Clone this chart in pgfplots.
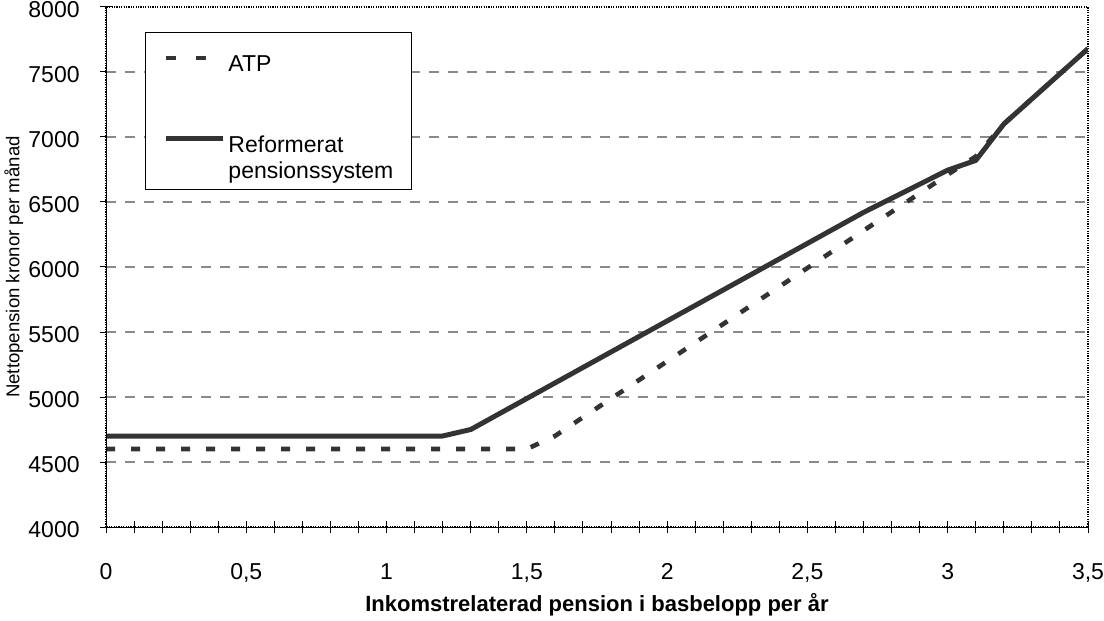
\documentclass[border=0pt]{standalone}
\usepackage{fontspec}
\setmainfont{Liberation Sans}
\usepackage{pgfplots}
\pgfplotsset{compat=1.18}
\definecolor{ln}{HTML}{333333}
\definecolor{gr}{HTML}{8A8A8A}
\newcommand\tfont{\fontsize{11.5}{13}\selectfont}
\pgfplotsset{
  atpleg/.style={legend image code/.code={\draw[ln, line width=2.3pt, dash pattern=on 5pt off 10pt] (0pt,7pt) -- (20pt,7pt);}},
  refleg/.style={legend image code/.code={\draw[ln, line width=2.5pt] (0pt,20pt) -- (28.5pt,20pt);}},
}
\begin{document}
\begin{tikzpicture}
\begin{axis}[name=ax, scale only axis, width=491pt, height=260pt,
  xmin=0, xmax=3.5, ymin=4000, ymax=8000,
  xtick={0,0.5,1,1.5,2,2.5,3,3.5}, minor x tick num=4,
  ytick={4000,4500,5000,5500,6000,6500,7000,7500,8000},
  tick pos=left, tick align=center,
  major tick length=6pt, minor tick length=6pt,
  tick style={black, line width=0.5pt},
  axis line style={black, line width=0.6pt, dash pattern=on 0.6pt off 0.6pt},
  /pgf/number format/assume math mode=true,
  /pgf/number format/use comma,
  /pgf/number format/1000 sep={},
  tick label style={font=\tfont},
  xticklabel style={font=\tfont, anchor=base, inner sep=0pt, yshift=-23pt},
  yticklabel style={font=\tfont, anchor=east, inner sep=0pt, xshift=-10pt, yshift=-1.2pt},
  extra y ticks={4500,5000,5500,6000,6500,7000,7500},
  extra y tick labels={},
  extra y tick style={grid=major, major tick length=0pt},
  grid style={gr, line width=0.7pt, dash pattern=on 5pt off 4.5pt},
  xlabel={Inkomstrelaterad pension i basbelopp per år},
  xlabel style={font=\bfseries\fontsize{11}{13}\selectfont, at={(axis description cs:0.5,0)}, anchor=base, yshift=-42pt},
  ylabel={Nettopension kronor per månad},
  ylabel style={font=\fontsize{9.3}{11}\selectfont, at={(axis description cs:-0.104,0.5)}, anchor=north, inner sep=0pt},
  legend cell align=left,
  legend style={at={(axis description cs:0.0397,0.952)}, anchor=north west,
    draw=black, line width=0.5pt, fill=white, inner xsep=9pt, inner ysep=4pt,
    row sep=30.6pt, column sep=1.5pt, font=\tfont,
    cells={anchor=base west}, nodes={inner sep=0pt}},
]
\addplot[color=ln, line width=2.3pt, dash pattern=on 4.5pt off 8pt, atpleg]
  coordinates {(0,4600) (1.5,4600) (1.6,4700) (2.9,6567) (3.0,6711) (3.1,6850) (3.2,7100) (3.5,7680)};
\addlegendentry{\rule{0pt}{15.7pt}ATP}
\addplot[color=ln, line width=2.5pt, line join=round, refleg]
  coordinates {(0,4700) (1.2,4700) (1.3,4750) (2.7,6420) (3.0,6745) (3.1,6820) (3.2,7100) (3.5,7680)};
\addlegendentry{\vbox{\baselineskip=13pt\hbox{Reformerat}\hbox{pensionssystem}}}
\end{axis}
\draw[black, line width=0.4pt] (ax.north west) -- (ax.south west) -- (ax.south east);
\pgfresetboundingbox
\path[use as bounding box] ([shift={(-53pt,-46.5pt)}]ax.south west) rectangle ([shift={(8pt,3.5pt)}]ax.north east);
\end{tikzpicture}
\end{document}
